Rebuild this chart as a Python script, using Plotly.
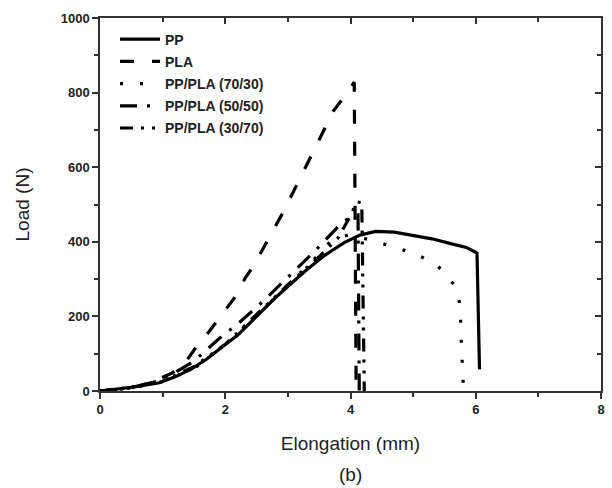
import plotly.graph_objects as go

# ---- data ----
pp_x = [0, 0.3, 0.6, 0.95, 1.2, 1.45, 1.7, 1.95, 2.2, 2.5, 2.8, 3.0, 3.3, 3.6, 3.9, 4.15, 4.4, 4.7, 5.0, 5.3, 5.6, 5.85, 6.02, 6.06]
pp_y = [0, 5, 12, 22, 38, 58, 85, 118, 150, 200, 250, 280, 325, 365, 398, 418, 428, 426, 418, 408, 395, 385, 370, 58]

pla_x = [0, 0.4, 0.8, 1.14, 1.35, 1.58, 1.74, 1.98, 2.14, 2.32, 2.46, 2.93, 3.2, 3.46, 3.72, 3.95, 4.06, 4.08, 4.09]
pla_y = [0, 5, 22, 47, 74, 128, 159, 213, 248, 303, 338, 481, 570, 660, 749, 800, 828, 400, 0]

b7030_x = [0, 0.5, 1.0, 1.5, 2.0, 2.5, 3.0, 3.4, 3.7, 4.0, 4.2, 4.43, 4.74, 5.06, 5.38, 5.66, 5.75, 5.77, 5.8]
b7030_y = [0, 8, 25, 60, 125, 200, 285, 350, 405, 420, 410, 399, 384, 366, 338, 284, 232, 126, 19]

b5050_x = [0, 0.5, 1.0, 1.5, 1.9, 2.2, 2.6, 3.0, 3.4, 3.8, 4.0, 4.12, 4.13, 4.14]
b5050_y = [0, 8, 30, 80, 140, 180, 240, 305, 370, 440, 468, 472, 200, 0]

b3070_x = [0, 0.5, 1.0, 1.5, 2.0, 2.5, 3.0, 3.5, 3.8, 4.0, 4.1, 4.18, 4.2, 4.22]
b3070_y = [0, 10, 28, 65, 125, 205, 285, 360, 410, 470, 507, 505, 250, 0]

series = [
    ("PP", pp_x, pp_y, "solid"),
    ("PLA", pla_x, pla_y, "14px,18px"),
    ("PP/PLA (70/30)", b7030_x, b7030_y, "3px,17px"),
    ("PP/PLA (50/50)", b5050_x, b5050_y, "17px,10px,3px,10px"),
    ("PP/PLA (30/70)", b3070_x, b3070_y, "13px,8px,3px,8px,3px,8px"),
]

fig = go.Figure()
for name, xs, ys, dash in series:
    fig.add_trace(go.Scatter(x=xs, y=ys, mode="lines", name=name, legendgroup=name,
                             line=dict(color="black", width=3.2, dash=dash)))

# invisible trace so the mirrored top/right axes get drawn
fig.add_trace(go.Scatter(x=[0, 8], y=[0, 1000], xaxis="x2", yaxis="y2", mode="lines",
                         line=dict(width=0, color="rgba(0,0,0,0)"), showlegend=False,
                         hoverinfo="skip"))

axis_common = dict(showgrid=False, zeroline=False, showline=True,
                   linecolor="#333", linewidth=1.5, tickcolor="#333",
                   tickwidth=1.5, mirror=False)

fig.update_layout(
    width=612, height=488,
    margin=dict(l=100, r=7, t=18, b=97),
    paper_bgcolor="white", plot_bgcolor="white",
    font=dict(family="Liberation Sans, Arial, sans-serif", color="#222"),
    xaxis=dict(range=[0, 8], dtick=2, ticks="outside", ticklen=6,
               minor=dict(ticks="outside", ticklen=4, dtick=1, tickcolor="#333", tickwidth=1.5),
               tickfont=dict(size=13, family="Liberation Sans, Arial", weight="bold"),
               title=dict(text="Elongation (mm)", font=dict(size=19), standoff=20),
               **axis_common),
    yaxis=dict(range=[0, 1000], dtick=200, ticks="outside", ticklen=6,
               minor=dict(ticks="outside", ticklen=4, dtick=100, tickcolor="#333", tickwidth=1.5),
               tickfont=dict(size=13, family="Liberation Sans, Arial", weight="bold"),
               title=dict(text="Load (N)", font=dict(size=19), standoff=26),
               **axis_common),
    xaxis2=dict(range=[0, 8], overlaying="x", side="top", dtick=2, ticks="inside", ticklen=6,
                minor=dict(ticks="inside", ticklen=4, dtick=1, tickcolor="#333", tickwidth=1.5),
                showticklabels=False, **axis_common),
    yaxis2=dict(range=[0, 1000], overlaying="y", side="right", dtick=200, ticks="inside", ticklen=6,
                minor=dict(ticks="inside", ticklen=4, dtick=100, tickcolor="#333", tickwidth=1.5),
                showticklabels=False, **axis_common),
    legend=dict(x=0.03, y=0.985, xanchor="left", yanchor="top",
                bgcolor="rgba(0,0,0,0)", borderwidth=0, itemwidth=40,
                font=dict(size=14, family="Liberation Sans, Arial", weight="bold", color="#222"),
                tracegroupgap=1),
    showlegend=True,
)

fig.add_annotation(text="(b)", xref="paper", yref="paper", x=0.5, y=-0.19,
                   xanchor="center", yanchor="top", showarrow=False,
                   font=dict(size=19, color="#222"))

fig.write_html("out.html")
